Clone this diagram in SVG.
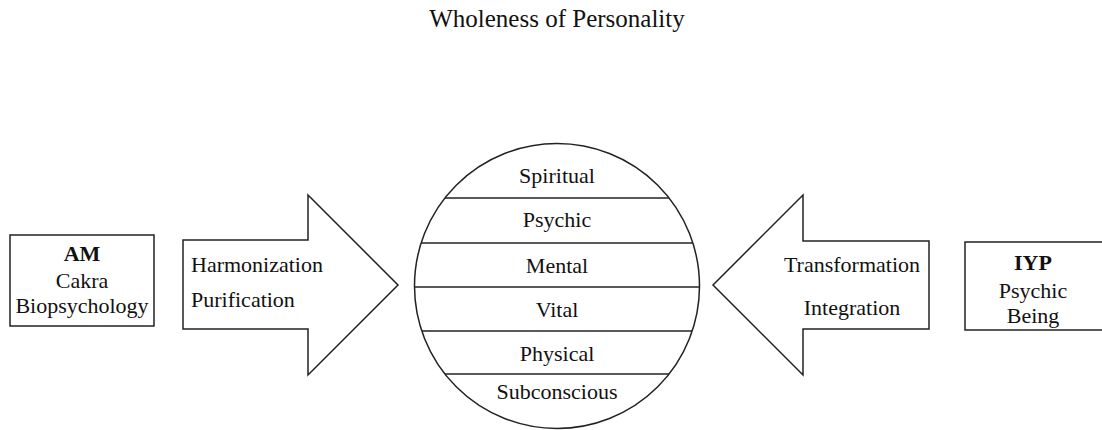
<svg xmlns="http://www.w3.org/2000/svg" width="1102" height="430" viewBox="0 0 1102 430">
<style>
text{font-family:"Liberation Serif","Times New Roman",serif;fill:#111;font-size:22px}
.c{text-anchor:middle}
.b{font-weight:bold}
.s{fill:#fff;stroke:#222;stroke-width:1.5}
.l{stroke:#222;stroke-width:1.5;fill:none}
</style>
<rect width="1102" height="430" fill="#fff"/>
<text class="c" x="557" y="27" style="font-size:25px">Wholeness of Personality</text>
<g id="am">
<rect class="s" x="10" y="235" width="144" height="91"/>
<text class="c b" x="82" y="261">AM</text>
<text class="c" x="82" y="288">Cakra</text>
<text class="c" x="82" y="313">Biopsychology</text>
</g>
<g id="iyp">
<rect class="s" x="965" y="242" width="140" height="88"/>
<text class="c b" x="1033" y="270">IYP</text>
<text class="c" x="1033" y="298">Psychic</text>
<text class="c" x="1033" y="323">Being</text>
</g>
<g id="connectors">
<g id="harmonization">
<polygon class="s" points="183,240 308,240 308,195 398,285 308,375 308,329 183,329"/>
<text x="191" y="272">Harmonization</text>
<text x="191" y="307">Purification</text>
</g>
<g id="transformation">
<polygon class="s" points="929,241 803,241 803,195 713,285 803,375 803,329 929,329"/>
<text class="c" x="852" y="272">Transformation</text>
<text class="c" x="852" y="315">Integration</text>
</g>
</g>
<g id="personality">
<circle class="s" cx="557" cy="286" r="142.5"/>
<line class="l" x1="445" y1="198" x2="669" y2="198"/>
<line class="l" x1="421" y1="243" x2="693" y2="243"/>
<line class="l" x1="414.5" y1="287" x2="699.5" y2="287"/>
<line class="l" x1="422" y1="331" x2="692" y2="331"/>
<line class="l" x1="445" y1="374" x2="669" y2="374"/>
<text class="c" x="557" y="183">Spiritual</text>
<text class="c" x="557" y="227">Psychic</text>
<text class="c" x="557" y="273">Mental</text>
<text class="c" x="557" y="317">Vital</text>
<text class="c" x="557" y="361">Physical</text>
<text class="c" x="557" y="399">Subconscious</text>
</g>
</svg>
